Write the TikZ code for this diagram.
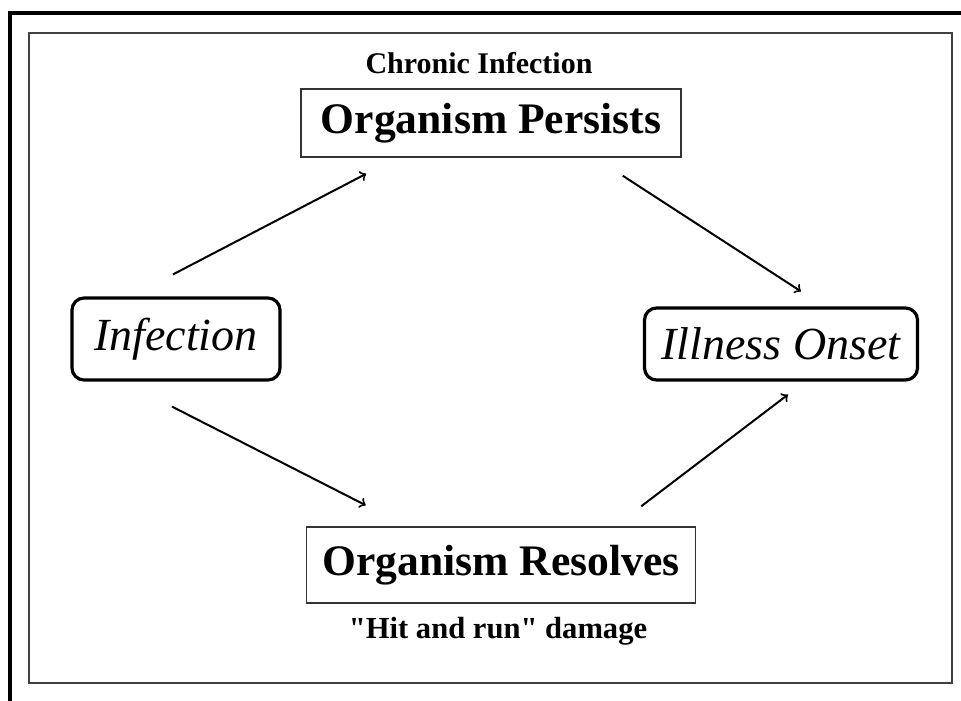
\documentclass[tikz,border=0pt]{standalone}
\usepackage{fontspec}
\setmainfont{Liberation Serif}
\usepackage{tikz}

\begin{document}
\begin{tikzpicture}[x = 0.5pt, y = -0.5pt]
\tikzstyle{outcomeStyle} = [shape = rectangle, draw = black!80, line width = 0.75pt, inner sep = 0pt, font = \fontsize{21.8}{26}\selectfont\bfseries]
\tikzstyle{stateStyle} = [shape = rectangle, draw, line width = 1.6pt, rounded corners = 6pt, inner sep = 0pt, font = \fontsize{23}{27}\selectfont\itshape]
\tikzstyle{noteStyle} = [inner sep = 0pt, font = \bfseries]
\tikzstyle{arcStyle} = [->, line width = 1pt]
\useasboundingbox (0,0) rectangle (961,700);
\draw[line width = 2.3pt] (10,720) -- (10,13) -- (980,13);
\draw[line width = 0.75pt, draw = black!75] (29,33) rectangle (952,683);
\node[outcomeStyle, minimum width = 190pt, minimum height = 34pt] (per) at (491,123) {Organism Persists};
\node[outcomeStyle, minimum width = 194.5pt, minimum height = 38pt] (res) at (501,565) {Organism Resolves};
\node[stateStyle, minimum width = 104pt, minimum height = 41pt] (inf) at (176,339) {Infection};
\node[stateStyle, minimum width = 136.5pt, minimum height = 36pt] (ill) at (781,344) {Illness Onset};
\node[noteStyle, font = \fontsize{15}{18}\selectfont\bfseries] (chr) at (479,63) {Chronic Infection};
\node[noteStyle, font = \fontsize{15.3}{18}\selectfont\bfseries] (hit) at (498,631) {\textquotedbl Hit and run\textquotedbl{} damage};
\draw[arcStyle] ([xshift = -1.5pt, yshift = 11pt]inf.north) -- ([xshift = 33pt, yshift = -8pt]per.south west);
\draw[arcStyle] ([xshift = -29.5pt, yshift = -9pt]per.south east) -- ([xshift = 10pt, yshift = 7.5pt]ill.north);
\draw[arcStyle] ([xshift = -2pt, yshift = -12.5pt]inf.south) -- ([xshift = 30pt, yshift = 10.5pt]res.north west);
\draw[arcStyle] ([xshift = -27.5pt, yshift = 10pt]res.north east) -- ([xshift = 3.5pt, yshift = -6.5pt]ill.south);
\end{tikzpicture}
\end{document}
